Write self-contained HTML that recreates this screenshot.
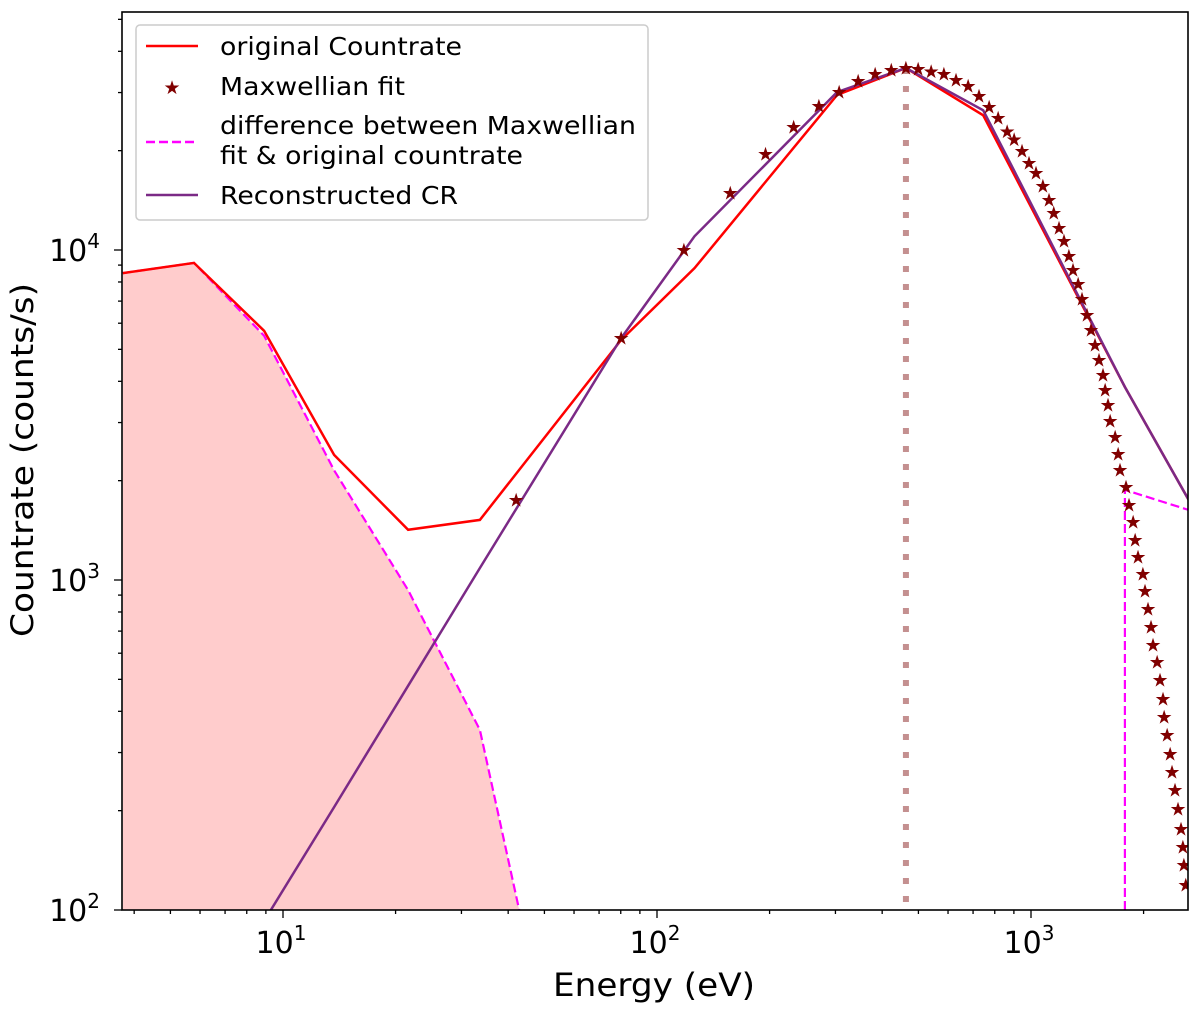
<!DOCTYPE html>
<html><head><meta charset="utf-8"><style>
body{margin:0;background:#fff;}
svg{display:block;font-family:"DejaVu Sans","Liberation Sans",sans-serif;}
</style></head><body>
<svg id="chart" width="1200" height="1010" xmlns="http://www.w3.org/2000/svg">
<g id="plot"></g>
<rect x="122" y="12" width="1066" height="898" fill="none" stroke="#000" stroke-width="1.6"/>
<g id="ticks"></g>
<text x="553" y="996" font-size="32" textLength="202" lengthAdjust="spacingAndGlyphs">Energy (eV)</text>
<text transform="translate(33,637) rotate(-90)" font-size="31" textLength="354" lengthAdjust="spacingAndGlyphs">Countrate (counts/s)</text>
<g>
<rect x="136" y="25" width="512" height="195" rx="4" fill="#fff" stroke="#ccc" stroke-width="1.5"/>
<line x1="146" y1="46" x2="198" y2="46" stroke="#ff0000" stroke-width="2.5"/>
<text x="220" y="55" font-size="25" textLength="242" lengthAdjust="spacingAndGlyphs">original Countrate</text>
<text x="172" y="94" font-size="19" fill="#800000" text-anchor="middle">★</text>
<text x="220" y="95" font-size="25" textLength="185" lengthAdjust="spacingAndGlyphs">Maxwellian fit</text>
<line x1="146" y1="142" x2="198" y2="142" stroke="#ff00ff" stroke-width="2.5" stroke-dasharray="9,4"/>
<text x="220" y="134" font-size="25" textLength="416" lengthAdjust="spacingAndGlyphs">difference between Maxwellian</text>
<text x="220" y="164" font-size="25" textLength="303" lengthAdjust="spacingAndGlyphs">fit &amp; original countrate</text>
<line x1="146" y1="195" x2="198" y2="195" stroke="#7b2a86" stroke-width="2.5"/>
<text x="220" y="204" font-size="25" textLength="238" lengthAdjust="spacingAndGlyphs">Reconstructed CR</text>
</g>
</svg>
<script>
const binsE=[3.73,5.78,8.9,13.7,21.6,33.6,80.2,126,303,463,745,1783,2642];
const originalCR=[8510,9140,5690,2393,1419,1521,5340,8810,29500,35600,25600,3845,1746];
const reconE=[8.9,13.7,21.6,33.6,80.2,126,303,463,745,1783,2642];
const reconCR=[92.6,205,478,1087,5408,11000,30100,35600,26500,3845,1746];
const diffLeftE=[3.73,5.78,8.9,13.7,21.6,33.6,42.8];
const diffLeftCR=[8510,9140,5500,2150,932,351,100];
const diffRightE=[1783,1783,2642];
const diffRightCR=[100,1875,1630];
const fitE=[42.0,80.2,118,157,195,232,271,307,345,383,423,463,499,541,585,630,679,726,773,817,863,901,946,988,1031,1076,1117,1151,1188,1225,1263,1295,1336,1369,1412,1447,1483,1520,1558,1578,1607,1627,1678,1710,1730,1795,1828,1875,1898,1932,1992,2017,2055,2094,2119,2173,2213,2254,2270,2312,2355,2383,2427,2472,2518,2547,2564,2594];
const fitCR=[1746,5408,10000,14890,19540,23600,27300,30100,32500,34100,35100,35600,35300,34800,34100,32700,31400,29300,27100,25100,22900,21600,19950,18350,17100,15630,14190,12950,11670,10650,9590,8700,7880,7110,6360,5730,5160,4640,4180,3767,3390,3030,2710,2410,2155,1915,1688,1499,1322,1174,1043,927,817,721,635,564,498,436,384,339,297,262,231,202,176,155,137,119];
const peakE=[463];
const xTickVals=[10,100,1000];
const xTickLabels=["1","2","3"];
const yTickVals=[100,1000,10000];
const yTickLabels=["2","3","4"];

const NS="http://www.w3.org/2000/svg";
const X0=122,X1=1188,Y0=12,Y1=910;
function sx(e){return 283+(Math.log10(e)-1)*374;}
function sy(c){return 910-(Math.log10(c)-2)*330;}
function mk(t,a,p){const el=document.createElementNS(NS,t);for(const k in a)el.setAttribute(k,a[k]);p.appendChild(el);return el;}
const plot=document.getElementById('plot');
const ticks=document.getElementById('ticks');
mk('clipPath',{id:'clip'},plot).appendChild(document.createElementNS(NS,'rect'));
const cr=plot.querySelector('clipPath rect');cr.setAttribute('x',X0);cr.setAttribute('y',Y0);cr.setAttribute('width',X1-X0);cr.setAttribute('height',Y1-Y0);
const g=mk('g',{'clip-path':'url(#clip)'},plot);
function pts(E,C){return E.map((e,i)=>sx(e).toFixed(1)+','+sy(C[i]).toFixed(1)).join(' ');}
let fp=pts(diffLeftE,diffLeftCR)+' '+sx(diffLeftE[diffLeftE.length-1]).toFixed(1)+','+Y1+' '+sx(diffLeftE[0]).toFixed(1)+','+Y1;
const fill=mk('polygon',{points:fp,fill:'#ffcccc'},g);


const vl=mk('line',{x1:sx(peakE[0]),x2:sx(peakE[0]),y1:sy(35600),y2:Y1,stroke:'#c49090','stroke-width':6,'stroke-dasharray':'6,12'},g);


const dl=mk('polyline',{points:pts(diffLeftE,diffLeftCR),fill:'none',stroke:'#ff00ff','stroke-width':2.2,'stroke-dasharray':'9,4'},g);


const dr=mk('polyline',{points:pts(diffRightE,diffRightCR),fill:'none',stroke:'#ff00ff','stroke-width':2.2,'stroke-dasharray':'9,4'},g);


const ol=mk('polyline',{points:pts(binsE,originalCR),fill:'none',stroke:'#ff0000','stroke-width':2.5},g);


const rl=mk('polyline',{points:pts(reconE,reconCR),fill:'none',stroke:'#7b2a86','stroke-width':2.5},g);


fitE.forEach((e,i)=>{
  const t=mk('text',{x:sx(e).toFixed(1),y:(sy(fitCR[i])+6.5).toFixed(1),'font-size':19,fill:'#800000','text-anchor':'middle'},g);
  t.textContent='★';
  
  
});
for(let d=0;d<=3;d++){for(let m=1;m<10;m++){const v=m*Math.pow(10,d);const x=sx(v);if(x<X0||x>X1)continue;
  mk('line',{x1:x,x2:x,y1:Y1,y2:Y1+(m===1?8:4),stroke:'#000','stroke-width':1.3},ticks);}}
xTickVals.forEach((v,i)=>{const t=mk('text',{x:sx(v)-2,y:953,'font-size':30,'text-anchor':'middle'},ticks);
  t.innerHTML='10<tspan font-size="20" dy="-13">'+xTickLabels[i]+'</tspan>';
  
  });
for(let d=2;d<=4;d++){for(let m=1;m<10;m++){const v=m*Math.pow(10,d);const y=sy(v);if(y<Y0||y>Y1)continue;
  mk('line',{x1:X0,x2:X0-(m===1?8:4),y1:y,y2:y,stroke:'#000','stroke-width':1.3},ticks);}}
yTickVals.forEach((v,i)=>{const t=mk('text',{x:100,y:sy(v)+11,'font-size':30,'text-anchor':'end'},ticks);
  t.innerHTML='10<tspan font-size="20" dy="-13">'+yTickLabels[i]+'</tspan>';
  
  });
</script>
</body></html>
